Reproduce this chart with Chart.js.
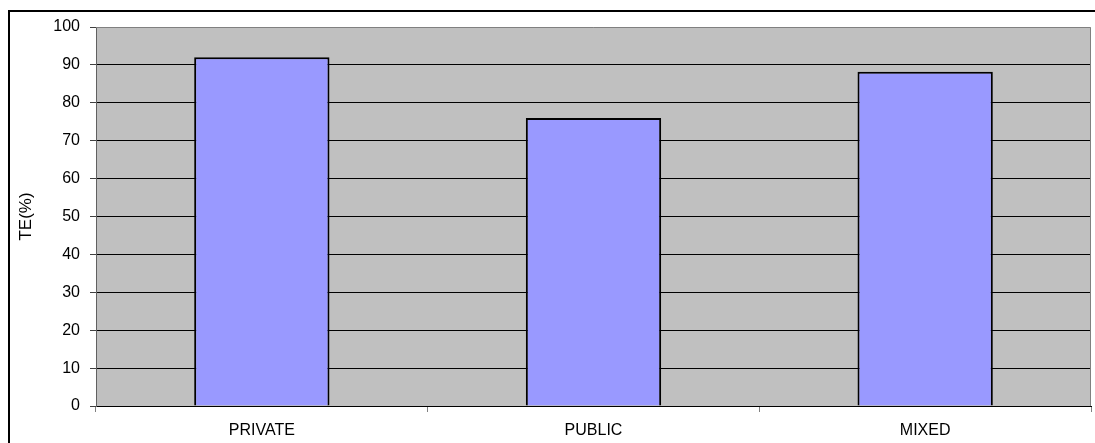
<!DOCTYPE html>
<html>
<head>
<meta charset="utf-8">
<script src="https://cdn.jsdelivr.net/npm/chart.js@4/dist/chart.umd.min.js"></script>
<style>
html,body{margin:0;padding:0;background:#fff;}
#wrap{width:1095px;height:443px;position:relative;}
</style>
</head>
<body>
<div id="wrap"><canvas id="c" width="1095" height="443"></canvas></div>
<script>
const categories = ['PRIVATE', 'PUBLIC', 'MIXED'];
const teValues = [92, 76, 88.2];
const yAxisTitle = 'TE(%)';
const yMin = 0, yMax = 100, yStep = 10;

const FONT = 'Liberation Sans, Arial, sans-serif';

const framePlugin = {
  id: 'frame',
  beforeDraw(chart) {
    const {ctx, chartArea: a} = chart;
    ctx.save();
    ctx.fillStyle = '#ffffff';
    ctx.fillRect(0, 0, chart.width, chart.height);
    ctx.fillStyle = '#C0C0C0';
    ctx.fillRect(a.left, a.top, a.right - a.left, a.bottom - a.top);
    ctx.restore();
  },
  beforeDatasetsDraw(chart) {
    const {ctx, chartArea: a} = chart;
    ctx.save();
    ctx.strokeStyle = '#808080';
    ctx.lineWidth = 1;
    ctx.beginPath();
    ctx.moveTo(a.left, a.top + 0.5);
    ctx.lineTo(a.right - 0.5, a.top + 0.5);
    ctx.lineTo(a.right - 0.5, a.bottom);
    ctx.stroke();
    ctx.restore();
  },
  afterDraw(chart) {
    const {ctx} = chart;
    ctx.save();
    ctx.strokeStyle = '#000000';
    ctx.lineWidth = 2;
    ctx.strokeRect(9, 11, chart.width + 20, chart.height + 20);
    ctx.restore();
  }
};

new Chart(document.getElementById('c'), {
  type: 'bar',
  data: {
    labels: categories,
    datasets: [{
      data: teValues,
      backgroundColor: '#9999FF',
      borderColor: '#000000',
      borderWidth: 2,
      categoryPercentage: 1,
      barPercentage: 0.408
    }]
  },
  plugins: [framePlugin],
  options: {
    responsive: false,
    animation: false,
    devicePixelRatio: 1,
    layout: { padding: { left: 0, top: 27, right: 4, bottom: 0 } },
    plugins: { legend: { display: false }, tooltip: { enabled: false } },
    scales: {
      x: {
        offset: true,
        afterFit(scale) { scale.height = 37; },
        grid: {
          offset: true,
          drawOnChartArea: false,
          drawTicks: true,
          tickLength: 6,
          tickColor: '#808080',
          color: '#808080'
        },
        border: { display: true, color: '#000000', width: 1 },
        ticks: {
          color: '#000000',
          font: { family: FONT, size: 16 },
          padding: 9,
          maxRotation: 0
        }
      },
      y: {
        min: yMin,
        max: yMax,
        afterFit(scale) { scale.width = 96; },
        grid: {
          drawTicks: true,
          tickLength: 6,
          tickColor: '#404040',
          color: (c) => (c.tick && c.tick.value === yMax) ? 'rgba(0,0,0,0)' : '#000000',
          lineWidth: 1
        },
        border: { display: true, color: '#606060', width: 1 },
        ticks: {
          stepSize: yStep,
          color: '#000000',
          font: { family: FONT, size: 16 },
          padding: 10
        },
        title: {
          display: true,
          text: yAxisTitle,
          color: '#000000',
          font: { family: FONT, size: 17 },
          padding: { top: 16, bottom: 0 }
        }
      }
    }
  }
});
</script>
</body>
</html>
